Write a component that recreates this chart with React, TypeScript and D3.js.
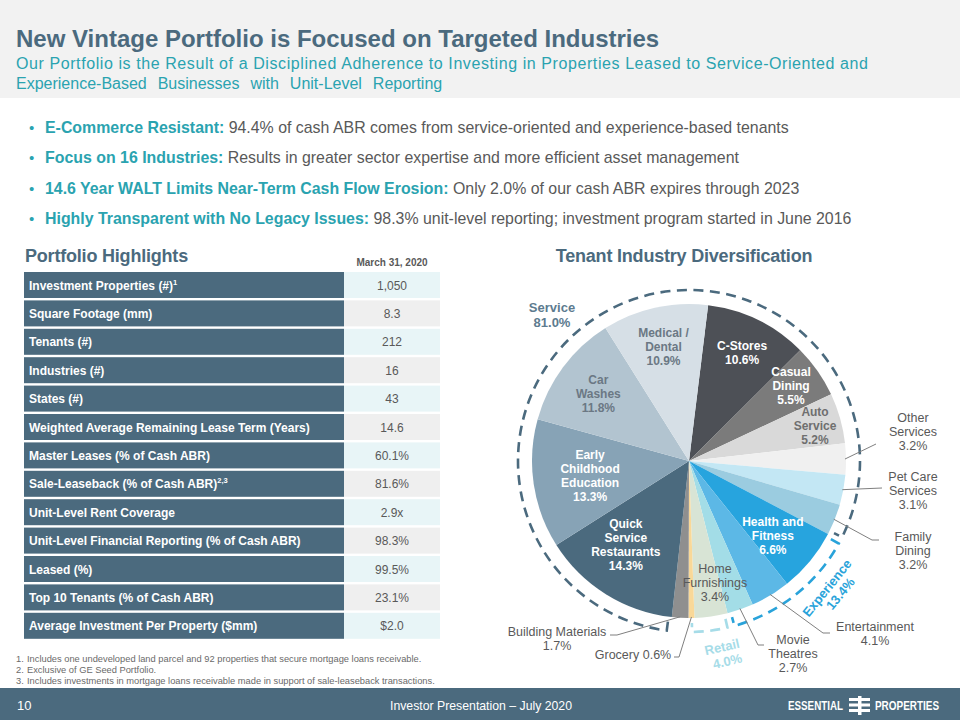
import React from 'react';
import * as d3 from 'd3';

// ---------- data ----------
const titleText = 'New Vintage Portfolio is Focused on Targeted Industries';
const subtitleLines = [
  'Our Portfolio is the Result of a Disciplined Adherence to Investing in Properties Leased to Service-Oriented and',
  'Experience-Based Businesses with Unit-Level Reporting',
];
const bulletBold = [
  'E-Commerce Resistant:',
  'Focus on 16 Industries:',
  '14.6 Year WALT Limits Near-Term Cash Flow Erosion:',
  'Highly Transparent with No Legacy Issues:',
];
const bulletRest = [
  ' 94.4% of cash ABR comes from service-oriented and experience-based tenants',
  ' Results in greater sector expertise and more efficient asset management',
  ' Only 2.0% of our cash ABR expires through 2023',
  ' 98.3% unit-level reporting; investment program started in June 2016',
];

const metricLabels = [
  'Investment Properties (#)',
  'Square Footage (mm)',
  'Tenants (#)',
  'Industries (#)',
  'States (#)',
  'Weighted Average Remaining Lease Term (Years)',
  'Master Leases (% of Cash ABR)',
  'Sale-Leaseback (% of Cash ABR)',
  'Unit-Level Rent Coverage',
  'Unit-Level Financial Reporting (% of Cash ABR)',
  'Leased (%)',
  'Top 10 Tenants (% of Cash ABR)',
  'Average Investment Per Property ($mm)',
];
const metricSup = ['1', '', '', '', '', '', '', '2,3', '', '', '', '', ''];
const metricValues = ['1,050', '8.3', '212', '16', '43', '14.6', '60.1%', '81.6%', '2.9x', '98.3%', '99.5%', '23.1%', '$2.0'];
const dateHeader = 'March 31, 2020';

const footnotes = [
  'Includes one undeveloped land parcel and 92 properties that secure mortgage loans receivable.',
  'Exclusive of GE Seed Portfolio.',
  'Includes investments in mortgage loans receivable made in support of sale-leaseback transactions.',
];

const industries = [
  'C-Stores', 'Casual Dining', 'Auto Service', 'Other Services', 'Pet Care Services', 'Family Dining',
  'Health and Fitness', 'Entertainment', 'Movie Theatres', 'Home Furnishings', 'Grocery', 'Building Materials',
  'Quick Service Restaurants', 'Early Childhood Education', 'Car Washes', 'Medical / Dental',
];
const labelLines = [
  ['C-Stores'], ['Casual', 'Dining'], ['Auto', 'Service'], ['Other', 'Services'], ['Pet Care', 'Services'],
  ['Family', 'Dining'], ['Health and', 'Fitness'], ['Entertainment'], ['Movie', 'Theatres'], ['Home', 'Furnishings'],
  ['Grocery'], ['Building  Materials'], ['Quick', 'Service', 'Restaurants'], ['Early', 'Childhood', 'Education'],
  ['Car', 'Washes'], ['Medical /', 'Dental'],
];
const shares = [10.6, 5.5, 5.2, 3.2, 3.1, 3.2, 6.6, 4.1, 2.7, 3.4, 0.6, 1.7, 14.3, 13.3, 11.8, 10.9];
const sliceColors = [
  '#4d5056', '#7b7b7b', '#d9d9d9', '#f0f0f0', '#c3e7f4', '#9bcce0',
  '#27a4de', '#5cb8e6', '#a3dde7', '#d8e4d5', '#f9d898', '#8f8f8f',
  '#4b6a7e', '#87a3b6', '#b2c4d0', '#d6dfe6',
];

const groupNames = ['Service', 'Experience', 'Retail'];
const groupShares = ['81.0%', '13.4%', '4.0%'];
const groupMembers = [[12, 13, 14, 15, 0, 1, 2, 3, 4, 5], [6, 7, 8], [9, 10]];
const groupColors = ['#4b6a7e', '#29a3da', '#a6dce8'];

const footerPage = '10';
const footerText = 'Investor Presentation \u2013 July 2020';

// ---------- layout ----------
const SLATE = '#4b6a7e';
const TEAL = '#2aa3b0';
const GREY = '#595959';
const FONT = "'Liberation Sans', Arial, Helvetica, sans-serif";
const NARROW = "'Liberation Sans Narrow', 'Liberation Sans', Arial, sans-serif";

// label placement: inner -> radius (+ angular nudge in degrees); outer -> text anchor + leader elbows
type Place =
  | { kind: 'in'; r: number; da: number; fill: string; bold: boolean; size: number }
  | { kind: 'out'; x: number; y: number; leader: [number, number][]; inline?: boolean };
const placement: Place[] = [
  { kind: 'in', r: 121, da: 0, fill: '#ffffff', bold: true, size: 12 },
  { kind: 'in', r: 127, da: -1.5, fill: '#ffffff', bold: true, size: 12 },
  { kind: 'in', r: 131, da: 0, fill: '#6f6f6f', bold: true, size: 12 },
  { kind: 'out', x: 913, y: 417, leader: [[876, 444]] },
  { kind: 'out', x: 913, y: 476, leader: [[882, 488]] },
  { kind: 'out', x: 913, y: 536, leader: [[879, 540], [872, 540]] },
  { kind: 'in', r: 112, da: 2, fill: '#ffffff', bold: true, size: 12 },
  { kind: 'out', x: 875, y: 626, leader: [[830, 633], [823, 633]] },
  { kind: 'out', x: 793, y: 639, leader: [[764, 645], [758, 645]] },
  { kind: 'in', r: 124, da: -4, fill: GREY, bold: false, size: 12.5 },
  { kind: 'out', x: 633, y: 654, leader: [[674, 657], [679, 657]], inline: true },
  { kind: 'out', x: 557, y: 631, leader: [[610, 635], [617, 635]] },
  { kind: 'in', r: 105, da: 5, fill: '#ffffff', bold: true, size: 12 },
  { kind: 'in', r: 100, da: 0, fill: '#ffffff', bold: true, size: 12 },
  { kind: 'in', r: 113, da: 0, fill: '#6b7884', bold: true, size: 12 },
  { kind: 'in', r: 117, da: 0, fill: '#6b7884', bold: true, size: 12 },
];

const rad = (d: number) => (d * Math.PI) / 180;

export default function App() {
  React.useEffect(() => {
    document.body.style.margin = '0';
  }, []);

  const cx = 689, cy = 461, R = 157, RD = 171;
  const pie = d3
    .pie<number>()
    .sort(null)
    .value((d) => d)
    .startAngle(rad(7))
    .endAngle(rad(367));
  const arcs = pie(shares);
  const arcGen = d3.arc<d3.PieArcDatum<number>>().innerRadius(0).outerRadius(R);
  const polar = (a: number, r: number): [number, number] => [cx + r * Math.sin(a), cy - r * Math.cos(a)];
  const pct = (v: number) => `${v.toFixed(1)}%`;

  // dashed group arcs
  const groupPath = (a0: number, a1: number) => {
    const p = d3.path();
    const s0 = polar(a0, RD - 9);
    p.moveTo(s0[0], s0[1]);
    const s1 = polar(a0, RD);
    p.lineTo(s1[0], s1[1]);
    p.arc(cx, cy, RD, a0 - Math.PI / 2, a1 - Math.PI / 2, false);
    const e = polar(a1, RD - 9);
    p.lineTo(e[0], e[1]);
    return p.toString();
  };
  const groupSpans = groupMembers.map((m) => {
    const first = arcs[m[0]];
    const last = arcs[m[m.length - 1]];
    const a0 = first.startAngle;
    let a1 = last.endAngle;
    if (a1 < a0) a1 += Math.PI * 2;
    return [a0 + rad(1.2), a1 - rad(1.2)];
  });

  // table geometry
  const tableTop = 272, rowPitch = 28.4, rowH = 26;
  const yRow = d3.scaleLinear().domain([0, 1]).range([tableTop, tableTop + rowPitch]);

  return (
    <svg width={960} height={720} style={{ position: 'absolute', left: 0, top: 0, background: '#fff' }} fontFamily={FONT}>
      {/* header */}
      <rect x={0} y={0} width={960} height={98} fill="#f2f2f2" />
      <text x={16} y={47} fontSize={24} fontWeight="bold" fill={SLATE}>{titleText}</text>
      <text x={16} y={69} fontSize={16} fill={TEAL} textLength={852} lengthAdjust="spacing">{subtitleLines[0]}</text>
      <text x={16} y={89} fontSize={16} fill={TEAL} wordSpacing={6.5}>{subtitleLines[1]}</text>

      {/* bullets */}
      {bulletBold.map((b, i) => (
        <g key={i}>
          <text x={29} y={133 + i * 30.3} fontSize={15} fill={TEAL}>•</text>
          <text x={45} y={133 + i * 30.3} fontSize={15.9} fill={GREY}>
            <tspan fontWeight="bold" fill={TEAL}>{b}</tspan>
            <tspan>{bulletRest[i]}</tspan>
          </text>
        </g>
      ))}

      {/* Portfolio highlights */}
      <text x={25} y={262} fontSize={18} fontWeight="bold" fill={SLATE} letterSpacing={-0.2}>Portfolio Highlights</text>
      <text x={392} y={266} fontSize={10} fontWeight="bold" fill={GREY} textAnchor="middle">{dateHeader}</text>
      {metricLabels.map((lab, i) => {
        const y = yRow(i);
        return (
          <g key={i}>
            <rect x={24} y={y} width={320} height={rowH} fill={SLATE} />
            <rect x={344} y={y} width={96} height={rowH} fill={i % 2 === 0 ? '#e8f5f7' : '#efefef'} />
            <text x={29} y={y + 17.5} fontSize={12} fontWeight="bold" fill="#ffffff">
              {lab}
              {metricSup[i] && (
                <tspan fontSize={7.5} dy={-5}>{metricSup[i]}</tspan>
              )}
            </text>
            <text x={392} y={y + 17.5} fontSize={12} fill={GREY} textAnchor="middle">{metricValues[i]}</text>
          </g>
        );
      })}

      {/* footnotes */}
      {footnotes.map((f, i) => (
        <g key={i} fontSize={9.3} fill="#6a6a6a">
          <text x={16} y={662 + i * 11}>{`${i + 1}.`}</text>
          <text x={27} y={662 + i * 11}>{f}</text>
        </g>
      ))}

      {/* pie title */}
      <text x={684} y={262} fontSize={18} fontWeight="bold" fill={SLATE} textAnchor="middle" letterSpacing={-0.2}>
        Tenant Industry Diversification
      </text>

      {/* pie slices */}
      <g transform={`translate(${cx},${cy})`}>
        {arcs.map((a, i) => (
          <path key={i} d={arcGen(a) || ''} fill={sliceColors[i]}>
            <title>{industries[i]}</title>
          </path>
        ))}
      </g>

      {/* dashed group arcs */}
      {groupSpans.map((s, g) => (
        <path key={g} d={groupPath(s[0], s[1])} fill="none" stroke={groupColors[g]} strokeWidth={2.6} strokeDasharray="10 6.5" />
      ))}

      {/* group labels */}
      <text x={552} y={312} fontSize={13} fontWeight="bold" fill="#5d7b8f" textAnchor="middle">
        <tspan x={552}>{groupNames[0]}</tspan>
        <tspan x={552} dy={15}>{groupShares[0]}</tspan>
      </text>
      <g transform="translate(827,588) rotate(-51)">
        <text x={0} y={4.5} fontSize={13} fontWeight="bold" fill={groupColors[1]} textAnchor="middle">
          <tspan x={0}>{groupNames[1]}</tspan>
          <tspan x={4} dy={14}>{groupShares[1]}</tspan>
        </text>
      </g>
      <g transform="translate(722,647) rotate(-13)">
        <text x={0} y={4.5} fontSize={13} fontWeight="bold" fill={groupColors[2]} textAnchor="middle">
          <tspan x={0}>{groupNames[2]}</tspan>
          <tspan x={2} dy={15}>{groupShares[2]}</tspan>
        </text>
      </g>

      {/* slice labels */}
      {arcs.map((a, i) => {
        const pl = placement[i];
        const mid = (a.startAngle + a.endAngle) / 2;
        const lines = [...labelLines[i], pct(shares[i])];
        if (pl.kind === 'in') {
          const [x, y] = polar(mid + rad(pl.da), pl.r);
          const y0 = y - ((lines.length - 1) * 14) / 2 + 4.3;
          return (
            <text key={i} fontSize={pl.size} fontWeight={pl.bold ? 'bold' : 'normal'} fill={pl.fill} textAnchor="middle">
              {lines.map((l, k) => (
                <tspan key={k} x={x} y={y0 + k * 14}>{l}</tspan>
              ))}
            </text>
          );
        }
        const start = polar(mid, R - 1);
        const ln = d3.line()(pl.leader.length === 1 ? [start, pl.leader[0]] : [start, pl.leader[1], pl.leader[0]]) || '';
        const textLines = pl.inline ? [`${labelLines[i][0]} ${pct(shares[i])}`] : lines;
        return (
          <g key={i}>
            <path d={ln} fill="none" stroke="#7f7f7f" strokeWidth={1} />
            <text fontSize={12.5} fill={GREY} textAnchor="middle">
              {textLines.map((l, k) => (
                <tspan key={k} x={pl.x} y={pl.y + 4.5 + k * 14}>{l}</tspan>
              ))}
            </text>
          </g>
        );
      })}

      {/* footer */}
      <rect x={0} y={688} width={960} height={32} fill={SLATE} />
      <text x={17} y={710} fontSize={13} fill="#ffffff" fontFamily={NARROW}>{footerPage}</text>
      <text x={390} y={710} fontSize={13} fill="#ffffff" fontFamily={NARROW} textLength={182} lengthAdjust="spacingAndGlyphs">{footerText}</text>
      <text x={788} y={709.5} fontSize={13} fontWeight="bold" fill="#ffffff" fontFamily={NARROW} textLength={55} lengthAdjust="spacingAndGlyphs">ESSENTIAL</text>
      <g fill="#ffffff">
        <rect x={858} y={696} width={3.5} height={19} />
        <rect x={849} y={698} width={9} height={3} />
        <rect x={849} y={703.5} width={9} height={3} />
        <rect x={849} y={709} width={9} height={3} />
        <rect x={861} y={698} width={9} height={3} />
        <rect x={861} y={703.5} width={9} height={3} />
        <rect x={861} y={709} width={9} height={3} />
      </g>
      <text x={875} y={709.5} fontSize={13} fontWeight="bold" fill="#ffffff" fontFamily={NARROW} textLength={64} lengthAdjust="spacingAndGlyphs">PROPERTIES</text>
    </svg>
  );
}
